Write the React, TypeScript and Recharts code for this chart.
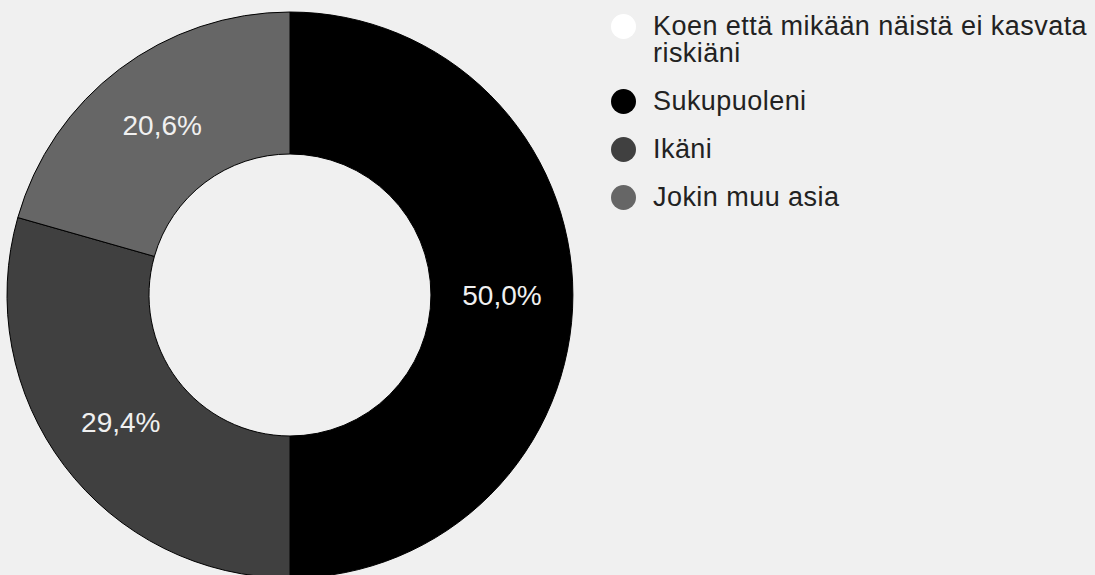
import { PieChart, Pie, Cell, Legend } from 'recharts';

// --- Data ---
const categories = [
  'Koen että mikään näistä ei kasvata riskiäni',
  'Sukupuoleni',
  'Ikäni',
  'Jokin muu asia',
];
const counts = [0, 17, 10, 7];
const colors = ['#ffffff', '#000000', '#404040', '#666666'];

const data = categories.map((name, i) => ({ name, value: counts[i] }));
const total = counts.reduce((a, b) => a + b, 0);

const RADIAN = Math.PI / 180;

function renderLabel(props: any) {
  const { cx, cy, midAngle, innerRadius, outerRadius, value } = props;
  if (!value) return null;
  const r = (innerRadius + outerRadius) / 2;
  const x = cx + r * Math.cos(-midAngle * RADIAN);
  const y = cy + r * Math.sin(-midAngle * RADIAN);
  const pct = ((value / total) * 100).toFixed(1).replace('.', ',') + '%';
  return (
    <text
      x={x}
      y={y}
      fill="#f0f0f0"
      textAnchor="middle"
      dominantBaseline="central"
      fontSize={28}
      fontFamily="'Liberation Sans', Arial, sans-serif"
    >
      {pct}
    </text>
  );
}

function LegendContent() {
  return (
    <div
      style={{
        fontFamily: "'Liberation Sans', Arial, sans-serif",
        fontSize: 27,
        letterSpacing: 0.45,
        color: '#222',
      }}
    >
      {categories.map((name, i) => (
        <div key={name} style={{ display: 'flex', alignItems: 'flex-start', marginBottom: 21 }}>
          <span
            style={{
              width: 25,
              height: 25,
              borderRadius: '50%',
              background: colors[i],
              flex: '0 0 auto',
              marginTop: 1,
              marginRight: 17,
            }}
          />
          <span style={{ lineHeight: '27px', width: 442 }}>{name}</span>
        </div>
      ))}
    </div>
  );
}

export default function App() {
  return (
    <div style={{ position: 'absolute', left: 0, top: 0, width: 1095, height: 575, background: '#f0f0f0' }}>
      <PieChart width={1095} height={575} margin={{ top: 0, right: 0, bottom: 0, left: 0 }}>
        <Pie
          data={data}
          dataKey="value"
          nameKey="name"
          cx={290}
          cy={295}
          innerRadius={141}
          outerRadius={283}
          startAngle={90}
          endAngle={-270}
          stroke="#000"
          strokeWidth={1}
          label={renderLabel}
          labelLine={false}
          isAnimationActive={false}
        >
          {data.map((d, i) => (
            <Cell key={d.name} fill={colors[i]} />
          ))}
        </Pie>
        <Legend
          layout="vertical"
          align="right"
          verticalAlign="top"
          content={<LegendContent />}
          wrapperStyle={{ left: 611, top: 13, width: 484 }}
        />
      </PieChart>
    </div>
  );
}
